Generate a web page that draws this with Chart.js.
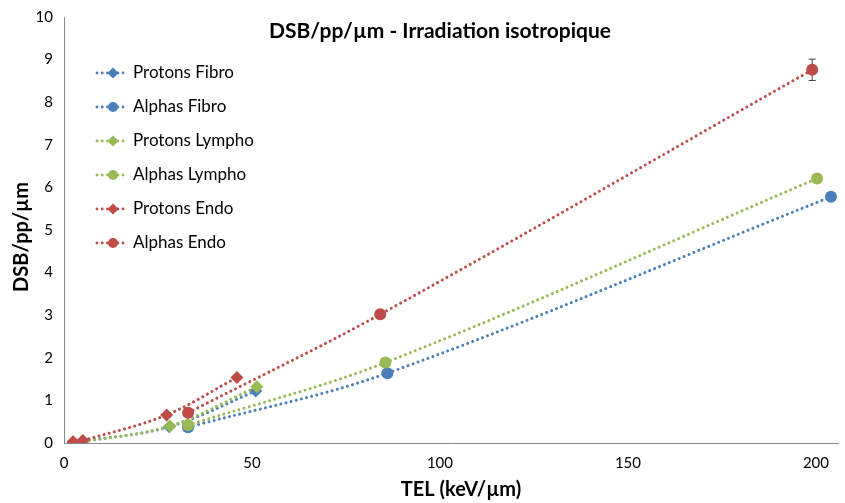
<!DOCTYPE html>
<html>
<head>
<meta charset="utf-8">
<script src="https://cdn.jsdelivr.net/npm/chart.js@4"></script>
<style>
  html, body { margin: 0; padding: 0; background: #fff; }
  #wadah { position: relative; width: 845px; height: 503px; }
</style>
</head>
<body>
<div id="wadah"><canvas id="grafik"></canvas></div>
<script>
// data (TEL keV/um vs DSB/pp/um)
const namaSeri = ['Protons Fibro', 'Alphas Fibro', 'Protons Lympho', 'Alphas Lympho', 'Protons Endo', 'Alphas Endo'];

const telProtonsFibro  = [2.5, 5, 28, 51];
const dsbProtonsFibro  = [0.02, 0.04, 0.38, 1.22];
const telAlphasFibro   = [33, 86, 204];
const dsbAlphasFibro   = [0.37, 1.64, 5.78];
const errAlphasFibro   = [0.02, 0.03, 0.05];

const telProtonsLympho = [2.5, 5, 28.2, 51.3];
const dsbProtonsLympho = [0.02, 0.03, 0.40, 1.32];
const telAlphasLympho  = [33, 85.5, 200.3];
const dsbAlphasLympho  = [0.42, 1.89, 6.21];
const errAlphasLympho  = [0.02, 0.03, 0.04];

const telProtonsEndo   = [2.4, 5, 27.3, 46];
const dsbProtonsEndo   = [0.03, 0.06, 0.66, 1.54];
const telAlphasEndo    = [33, 84.1, 199];
const dsbAlphasEndo    = [0.71, 3.02, 8.76];
const errAlphasEndo    = [0.03, 0.06, 0.25];

const tickX = [0, 50, 100, 150, 200];
const tickY = [0, 1, 2, 3, 4, 5, 6, 7, 8, 9, 10];

// warna ala excel
const biru  = '#4a7ebb';
const hijau = '#98b954';
const merah = '#be4b48';
const warnaSumbu = '#868686';
const hurufUtama = "Lato, 'Open Sans', sans-serif";

function gabung(xs, ys) {
  return xs.map((x, i) => ({ x: x, y: ys[i] }));
}

function bikinSeri(idx, xs, ys, warna, bentuk, err) {
  return {
    label: namaSeri[idx],
    data: gabung(xs, ys),
    galat: err || null,
    borderColor: warna,
    backgroundColor: warna,
    pointBackgroundColor: warna,
    pointBorderColor: warna,
    pointStyle: bentuk,
    pointRadius: bentuk === 'circle' ? 6 : 6.5,
    pointBorderWidth: 0,
    borderWidth: 3,
    borderDash: [0.01, 5.3], // titik-titik bulat
    borderCapStyle: 'round',
    tension: 0.35,
    showLine: true,
    fill: false,
    order: 5 - idx // seri belakang digambar paling atas
  };
}

const dataSeri = [
  bikinSeri(0, telProtonsFibro, dsbProtonsFibro, biru, 'rectRot'),
  bikinSeri(1, telAlphasFibro, dsbAlphasFibro, biru, 'circle', errAlphasFibro),
  bikinSeri(2, telProtonsLympho, dsbProtonsLympho, hijau, 'rectRot'),
  bikinSeri(3, telAlphasLympho, dsbAlphasLympho, hijau, 'circle', errAlphasLympho),
  bikinSeri(4, telProtonsEndo, dsbProtonsEndo, merah, 'rectRot'),
  bikinSeri(5, telAlphasEndo, dsbAlphasEndo, merah, 'circle', errAlphasEndo)
];

// error bar, judul, label sumbu dan legenda digambar sendiri
const pluginTambahan = {
  id: 'tambahan',
  beforeDatasetsDraw(chart) {
    const ctx = chart.ctx;
    const sx = chart.scales.x, sy = chart.scales.y;
    ctx.save();
    ctx.strokeStyle = '#404040';
    ctx.lineWidth = 1;
    chart.data.datasets.forEach(ds => {
      if (!ds.galat) return;
      ds.data.forEach((p, i) => {
        const e = ds.galat[i];
        const px = sx.getPixelForValue(p.x);
        const atas = sy.getPixelForValue(p.y + e);
        const bawah = sy.getPixelForValue(p.y - e);
        ctx.beginPath();
        ctx.moveTo(px, atas); ctx.lineTo(px, bawah);
        ctx.moveTo(px - 3.5, atas); ctx.lineTo(px + 3.5, atas);
        ctx.moveTo(px - 3.5, bawah); ctx.lineTo(px + 3.5, bawah);
        ctx.stroke();
      });
    });
    ctx.restore();
  },
  afterDraw(chart) {
    const ctx = chart.ctx;
    ctx.save();
    ctx.fillStyle = '#000';
    // judul
    ctx.font = "bold 21px " + hurufUtama;
    ctx.textAlign = 'center';
    ctx.textBaseline = 'middle';
    ctx.fillText('DSB/pp/\u00b5m - Irradiation isotropique', 440, 31);
    // label sumbu x
    ctx.font = "bold 20px " + hurufUtama;
    ctx.fillText('TEL (keV/\u00b5m)', 461, 490);
    // label sumbu y
    ctx.translate(22, 237);
    ctx.rotate(-Math.PI / 2);
    ctx.fillText('DSB/pp/\u00b5m', 0, 0);
    ctx.restore();

    // legenda di dalam area plot
    ctx.save();
    chart.data.datasets.forEach((ds, i) => {
      const yy = 73 + i * 34;
      ctx.strokeStyle = ds.borderColor;
      ctx.lineWidth = 2.8;
      ctx.lineCap = 'round';
      ctx.setLineDash([0.01, 5.2]);
      ctx.beginPath();
      ctx.moveTo(97, yy); ctx.lineTo(128, yy);
      ctx.stroke();
      ctx.setLineDash([]);
      ctx.fillStyle = ds.backgroundColor;
      ctx.beginPath();
      if (ds.pointStyle === 'circle') {
        ctx.arc(113, yy, 5, 0, Math.PI * 2);
      } else {
        ctx.moveTo(113, yy - 5.5); ctx.lineTo(118.5, yy);
        ctx.lineTo(113, yy + 5.5); ctx.lineTo(107.5, yy);
        ctx.closePath();
      }
      ctx.fill();
      ctx.fillStyle = '#000';
      ctx.font = "17px " + hurufUtama;
      ctx.textAlign = 'left';
      ctx.textBaseline = 'middle';
      ctx.fillText(ds.label, 133, yy);
    });
    ctx.restore();
  }
};

document.addEventListener('DOMContentLoaded', () => {
  if (typeof Chart === 'undefined') return;
  Chart.defaults.font.family = hurufUtama;
  Chart.defaults.color = '#000';

  new Chart(document.getElementById('grafik').getContext('2d'), {
    type: 'scatter',
    data: { datasets: dataSeri },
    options: {
      responsive: true,
      maintainAspectRatio: false,
      animation: false,
      layout: { padding: { top: 17, right: 0, bottom: 0, left: 0 } },
      plugins: {
        legend: { display: false },
        title: { display: false },
        tooltip: { enabled: false }
      },
      scales: {
        x: {
          type: 'linear',
          min: 0,
          max: 206,
          afterFit: s => { s.height = 60; },
          afterBuildTicks: s => { s.ticks = tickX.map(v => ({ value: v })); },
          grid: { display: false, drawTicks: true, tickLength: 5, tickColor: warnaSumbu },
          border: { display: true, color: warnaSumbu, width: 1 },
          ticks: { font: { size: 15 }, padding: 6, maxRotation: 0, includeBounds: false }
        },
        y: {
          type: 'linear',
          min: 0,
          max: 10,
          afterFit: s => { s.width = 64; },
          afterBuildTicks: s => { s.ticks = tickY.map(v => ({ value: v })); },
          grid: { display: false, drawTicks: true, tickLength: 5, tickColor: warnaSumbu },
          border: { display: true, color: warnaSumbu, width: 1 },
          ticks: { font: { size: 15 }, padding: 6 }
        }
      }
    },
    plugins: [pluginTambahan]
  });
});
</script>
</body>
</html>
